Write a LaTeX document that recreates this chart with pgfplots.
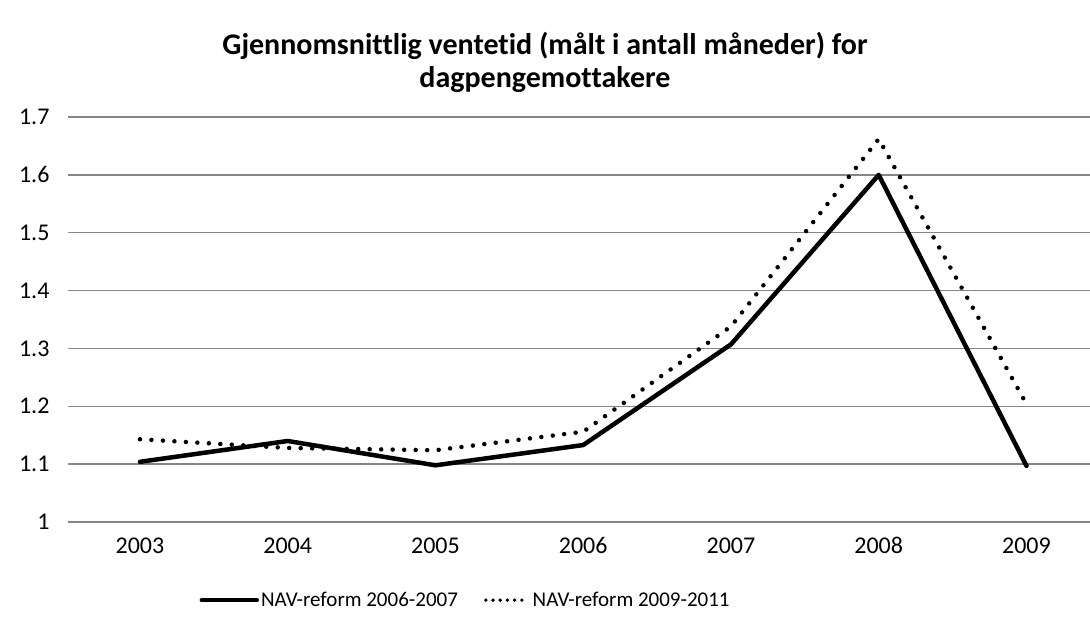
\documentclass[border=0pt]{standalone}
\usepackage{pgfplots}
\pgfplotsset{compat=1.18}
\usepackage{fontspec}
\setmainfont[Ligatures=NoCommon]{Carlito}
\definecolor{gridgray}{HTML}{868686}
\begin{document}
\begin{tikzpicture}[x=1pt,y=1pt]
\path[use as bounding box] (0,0) rectangle (1090,624);
\node[font=\fontsize{30}{33}\selectfont\bfseries, align=center] at (545,562) {Gjennomsnittlig ventetid (målt i antall måneder) for\\dagpengemottakere};
\begin{axis}[
  at={(68pt,102pt)}, anchor=south west,
  scale only axis, width=1022pt, height=405pt,
  xmin=-0.487, xmax=6.43, ymin=1, ymax=1.7,
  axis line style={draw=none},
  xtick={0,...,6},
  xticklabels={2003,2004,2005,2006,2007,2008,2009},
  ytick={1,1.1,1.2,1.3,1.4,1.5,1.6,1.7},
  yticklabels={1,1.1,1.2,1.3,1.4,1.5,1.6,1.7},
  ymajorgrids, major grid style={gridgray, line width=1.5pt},
  major tick length=0pt,
  tick label style={font=\fontsize{24}{28}\selectfont},
  yticklabel style={xshift=-15pt},
  xticklabel style={yshift=-12pt},
  clip=false,
  legend columns=2,
  legend style={at={(0.389,-0.193)}, anchor=center, draw=none, fill=none,
    font=\fontsize{21}{25}\selectfont, /tikz/every even column/.append style={column sep=24pt}},
]
\addplot[black, line width=4.5pt, line join=round, line cap=round,
  legend image code/.code={\draw[##1] (0pt,0pt) -- (55pt,0pt);}] coordinates {
 (0,1.104) (1,1.14) (2,1.098) (3,1.133) (4,1.307) (5,1.600) (6,1.097)};
\addlegendentry{NAV-reform 2006-2007}
\addplot[black, line width=4.5pt, line cap=round, dash pattern=on 0pt off 11.5pt,
  legend image code/.code={\draw[black, line width=3.8pt, line cap=round, dash pattern=on 0pt off 7.2pt] (0pt,0pt) -- (37pt,0pt);}] coordinates {
 (0,1.143) (1,1.128) (2,1.124) (3,1.156) (4,1.338) (5,1.662) (6,1.204)};
\addlegendentry{\hspace{6pt}NAV-reform 2009-2011}
\end{axis}
\end{tikzpicture}
\end{document}
